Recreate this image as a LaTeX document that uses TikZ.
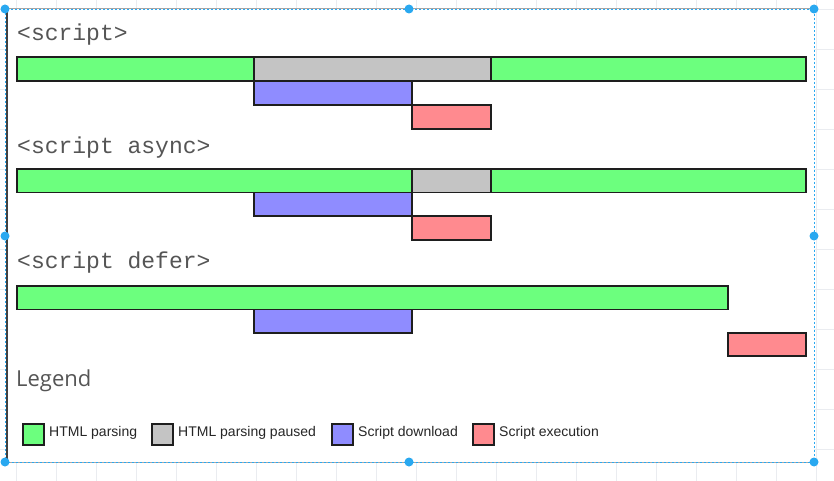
\documentclass[tikz,border=0pt]{standalone}
\usepackage{fontspec}
\usetikzlibrary{positioning}
\newfontfamily\tagfamily{Liberation Mono}
\newfontfamily\keyfamily{Liberation Sans}
\newfontfamily\legendfamily{Open Sans}
\definecolor{parsegreen}{RGB}{108,255,126}
\definecolor{pausegrey}{RGB}{196,196,196}
\definecolor{fetchblue}{RGB}{143,140,255}
\definecolor{execred}{RGB}{255,138,143}
\definecolor{segline}{RGB}{30,30,30}
\definecolor{taggrey}{RGB}{85,85,85}
\definecolor{selblue}{RGB}{41,168,240}
\definecolor{gridgrey}{RGB}{234,236,240}
\begin{document}
\begin{tikzpicture}[
  x=1pt, y=-1pt,
  seg/.style={rectangle, draw=segline, line width=1.6pt, minimum height=24pt, inner sep=0pt, outer sep=0pt, anchor=north west},
  parse/.style={seg, fill=parsegreen},
  paused/.style={seg, fill=pausegrey},
  fetch/.style={seg, fill=fetchblue},
  exec/.style={seg, fill=execred},
  tag/.style={anchor=west, inner sep=0pt, text=taggrey, font=\tagfamily\fontsize{23}{27}\selectfont},
  key/.style={seg, minimum width=21pt, minimum height=21pt},
  keylabel/.style={anchor=north west, inner sep=0pt, text=black!85, font=\keyfamily\fontsize{14}{16}\selectfont},
  handle/.style={circle, fill=selblue, minimum size=9pt, inner sep=0pt}
]
\useasboundingbox (0,0) rectangle (834,481);

% Canvas grid and page
\foreach \gx in {16,56,...,834} \draw[gridgrey, line width=0.6pt] (\gx,0) -- (\gx,481);
\foreach \gy in {9,49,...,481} \draw[gridgrey, line width=0.6pt] (0,\gy) -- (834,\gy);
\node[rectangle, fill=white, minimum width=807pt, minimum height=453pt, inner sep=0pt, outer sep=0pt, anchor=north west] (panel) at (7,9) {};
\draw[gray!70, line width=1pt] (panel.north west) -- (panel.north east);
\draw[gray!70, line width=1pt] (panel.south west) -- (panel.south east);
\draw[black!75, line width=2.4pt] (panel.north west) -- (panel.south west);

% <script>
\node[tag] (tag_sync) at (17,35) {<script>};
\node[parse, minimum width=237pt] (sync_parse1) at (17,57) {};
\node[paused, minimum width=237pt, right=0pt of sync_parse1] (sync_pause) {};
\node[parse, minimum width=315pt, right=0pt of sync_pause] (sync_parse2) {};
\node[fetch, minimum width=158pt] (sync_fetch) at (sync_pause.south west) {};
\node[exec, minimum width=79pt] (sync_exec) at (sync_fetch.south east) {};

% <script async>
\node[tag] (tag_async) at (17,148) {<script async>};
\node[parse, minimum width=395pt, minimum height=23.6pt] (async_parse1) at (17,169) {};
\node[paused, minimum width=79pt, minimum height=23.6pt, right=0pt of async_parse1] (async_pause) {};
\node[parse, minimum width=315pt, minimum height=23.6pt, right=0pt of async_pause] (async_parse2) {};
\node[fetch, minimum width=158pt, minimum height=23.6pt, anchor=north east] (async_fetch) at (async_pause.south west) {};
\node[exec, minimum width=79pt, minimum height=23.6pt] (async_exec) at (async_fetch.south east) {};

% <script defer>
\node[tag] (tag_defer) at (17,263) {<script defer>};
\node[parse, minimum width=711pt, minimum height=23.4pt] (defer_parse) at (17,286) {};
\node[fetch, minimum width=158pt, minimum height=23.4pt] (defer_fetch) at (sync_fetch.west |- defer_parse.south) {};
\node[exec, minimum width=78pt, minimum height=23.4pt] (defer_exec) at (defer_parse.east |- defer_fetch.south) {};

% Legend
\node[anchor=west, inner sep=0pt, text=taggrey, font=\legendfamily\fontsize{22}{26}\selectfont] (legend) at (16,381) {Legend};
\node[key, fill=parsegreen] (key_parse) at (23,424) {};
\node[keylabel] (key_parse_txt) at ([xshift=5pt, yshift=-2pt]key_parse.north east) {HTML parsing};
\node[key, fill=pausegrey] (key_pause) at (152,424) {};
\node[keylabel] (key_pause_txt) at ([xshift=5pt, yshift=-2pt]key_pause.north east) {HTML parsing paused};
\node[key, fill=fetchblue] (key_fetch) at (332,424) {};
\node[keylabel] (key_fetch_txt) at ([xshift=5pt, yshift=-2pt]key_fetch.north east) {Script download};
\node[key, fill=execred] (key_exec) at (473,424) {};
\node[keylabel] (key_exec_txt) at ([xshift=5pt, yshift=-2pt]key_exec.north east) {Script execution};

% Selection frame
\node[handle] (h_nw) at (5,9) {};
\node[handle] (h_n) at (409,9) {};
\node[handle] (h_ne) at (814,9) {};
\node[handle] (h_w) at (5,236) {};
\node[handle] (h_e) at (814,236) {};
\node[handle] (h_sw) at (5,462) {};
\node[handle] (h_s) at (409,462) {};
\node[handle] (h_se) at (814,462) {};
\draw[selblue, line width=0.8pt, dash pattern=on 2pt off 2pt] (h_nw.center) rectangle (h_se.center);

\end{tikzpicture}
\end{document}
